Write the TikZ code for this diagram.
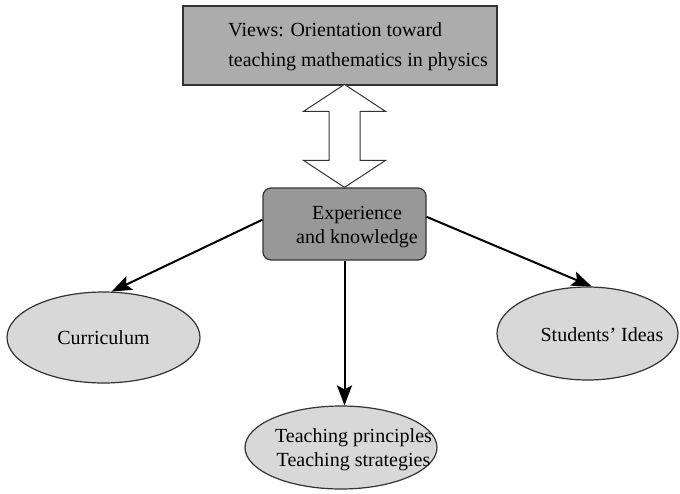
\documentclass[tikz,border=0pt]{standalone}
\usepackage{fontspec}
\setmainfont{Liberation Serif}
\usetikzlibrary{arrows.meta, shapes.geometric}
\definecolor{viewgray}{RGB}{172,172,172}
\definecolor{knowgray}{RGB}{152,152,152}
\definecolor{ovalgray}{RGB}{216,216,216}

\begin{document}
\begin{tikzpicture}[x=0.5pt, y=-0.5pt, font=\fontsize{10}{12}\selectfont,
    viewbox/.style={draw=black!80, line width=0.6pt, fill=viewgray, minimum width=157pt, minimum height=39.5pt, inner sep=0pt},
    knowbox/.style={draw=black!80, line width=0.6pt, fill=knowgray, rounded corners=4pt, minimum width=81.5pt, minimum height=36pt, inner sep=0pt},
    oval/.style={ellipse, draw=black!80, line width=0.6pt, fill=ovalgray, inner sep=0pt},
    txt/.style={inner sep=0pt, text=black},
    link/.style={-{Stealth[length=10pt, width=7.5pt, inset=2pt]}, line width=1pt},
    hollow/.style={draw=black!80, line width=0.5pt, fill=white}]
    \useasboundingbox (0,0) rectangle (680,493);

    % Top box: views
    \node[viewbox] (views) at (340,45.5) {};
    \node[txt, anchor=west, align=left] (viewstext) at (228,47)
        {Views: Orientation toward\\[3pt]teaching mathematics in physics};

    % Middle box: experience
    \node[knowbox] (know) at (344.5,224) {};
    \node[txt, align=center] (knowtext) at (357,227) {Experience\\and knowledge};

    % Ovals
    \node[oval, minimum width=96.5pt, minimum height=45.5pt] (curr) at (103.5,337.5) {Curriculum};
    \node[oval, minimum width=90.5pt, minimum height=46.5pt] (ideas) at (587.5,333.5) {};
    \node[txt] (ideastext) at (602,335) {Students' Ideas};
    \node[oval, minimum width=96pt, minimum height=41.5pt] (teach) at (341,447.5) {};
    \node[txt, align=center] (teachtext) at (353.5,450) {Teaching principles\\Teaching strategies};

    % Hollow double arrow between the boxes
    \draw[hollow] (know.north) -- +(-41,-27) -- +(-15.5,-27) -- +(-15.5,-76)
        -- +(-41,-76) -- +(0,-103) -- +(41,-76) -- +(15.5,-76)
        -- +(15.5,-27) -- +(41,-27) -- cycle;

    % Arrows to the ovals
    \draw[link] (know.177) -- (curr.80);
    \draw[link] (know.5) -- (ideas.85);
    \draw[link] (know.south) -- (know.south |- teach.north);
\end{tikzpicture}
\end{document}
